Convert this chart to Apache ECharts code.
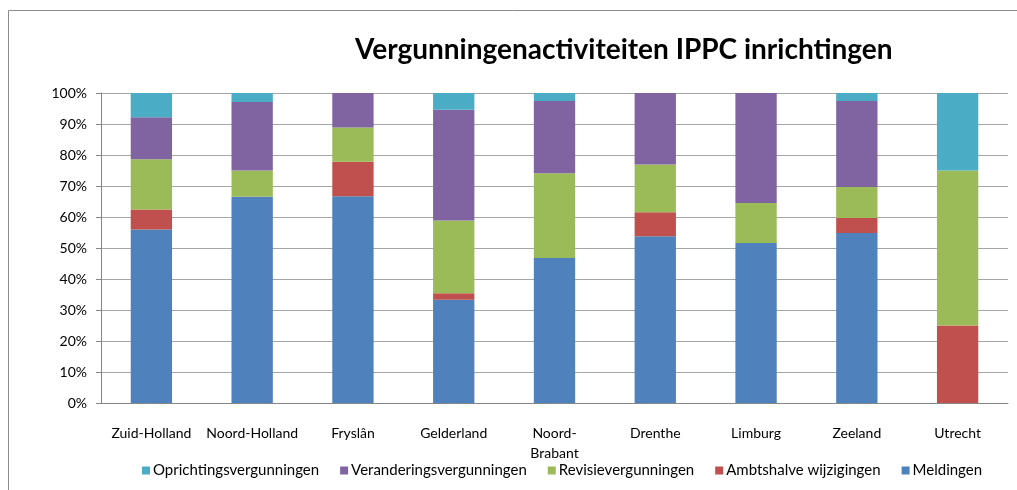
<!DOCTYPE html>
<html lang="nl">
  <head>
    <meta charset="UTF-8" />
    <title>Vergunningenactiviteiten IPPC inrichtingen</title>
    <script src="https://cdn.jsdelivr.net/npm/echarts@6/dist/echarts.min.js"></script>
    <style>
      html, body { margin: 0; padding: 0; background: #fff; }
    </style>
  </head>
  <body>
    <div id="main" style="width: 1017px; height: 490px"></div>
    <script type="text/javascript">
      // provinces, share of each permit activity (percent of total)
      const provincies = ["Zuid-Holland", "Noord-Holland", "Fryslân", "Gelderland", "Noord-\nBrabant", "Drenthe", "Limburg", "Zeeland", "Utrecht"];
      const meldingen = [56.0, 66.5, 66.7, 33.3, 46.8, 53.8, 51.6, 54.8, 0];
      const ambtshalve = [6.4, 0, 11.1, 2.1, 0, 7.7, 0, 4.9, 25];
      const revisie = [16.2, 8.5, 11.1, 23.5, 27.3, 15.4, 12.9, 10.0, 50];
      const verandering = [13.6, 22.1, 11.1, 35.7, 23.3, 23.1, 35.5, 27.7, 0];
      const oprichting = [7.8, 2.9, 0, 5.4, 2.6, 0, 0, 2.6, 25];
      const legendOrder = ["Oprichtingsvergunningen", "Veranderingsvergunningen", "Revisievergunningen", "Ambtshalve wijzigingen", "Meldingen"];

      let myChart = echarts.init(document.getElementById("main"));

      const font = "Lato, 'Open Sans', sans-serif";

      function bar(name, data, color) {
        return {
          name: name,
          type: "bar",
          stack: "totaal",
          barWidth: "41%",
          data: data,
          itemStyle: { color: color },
        };
      }

      let options = {
        animation: false,
        textStyle: { fontFamily: font },
        title: {
          text: "Vergunningenactiviteiten IPPC inrichtingen",
          left: 350,
          top: 31,
          textStyle: { fontFamily: font, fontSize: 28, fontWeight: "bold", color: "#000" },
        },
        graphic: [
          {
            type: "rect",
            shape: { x: 8.5, y: 10.5, width: 1100, height: 600 },
            style: { fill: "none", stroke: "#8c8c8c", lineWidth: 1 },
            silent: true,
          },
        ],
        legend: {
          data: legendOrder,
          bottom: 7,
          left: 137,
          itemWidth: 8,
          itemHeight: 8,
          itemGap: 21,
          icon: "rect",
          textStyle: { fontFamily: font, fontSize: 15, color: "#000", padding: [0, 0, 0, -2] },
        },
        grid: { left: 101, right: 9, top: 93, bottom: 87 },
        xAxis: {
          type: "category",
          data: provincies,
          axisLine: { lineStyle: { color: "#868686" } },
          axisTick: { length: 5, lineStyle: { color: "#868686" } },
          axisLabel: { color: "#000", fontSize: 14, margin: 20, lineHeight: 20, interval: 0 },
        },
        yAxis: {
          type: "value",
          min: 0,
          max: 100,
          interval: 10,
          axisLine: { show: true, lineStyle: { color: "#868686" } },
          axisTick: { show: true, length: 5, lineStyle: { color: "#868686" } },
          axisLabel: { formatter: "{value}%", color: "#000", fontSize: 14, margin: 14 },
          splitLine: { lineStyle: { color: "#a6a6a6" } },
        },
        series: [
          bar("Meldingen", meldingen, "#4f81bd"),
          bar("Ambtshalve wijzigingen", ambtshalve, "#c0504d"),
          bar("Revisievergunningen", revisie, "#9bbb59"),
          bar("Veranderingsvergunningen", verandering, "#8064a2"),
          bar("Oprichtingsvergunningen", oprichting, "#4bacc6"),
        ],
      };

      myChart.setOption(options);
    </script>
  </body>
</html>
